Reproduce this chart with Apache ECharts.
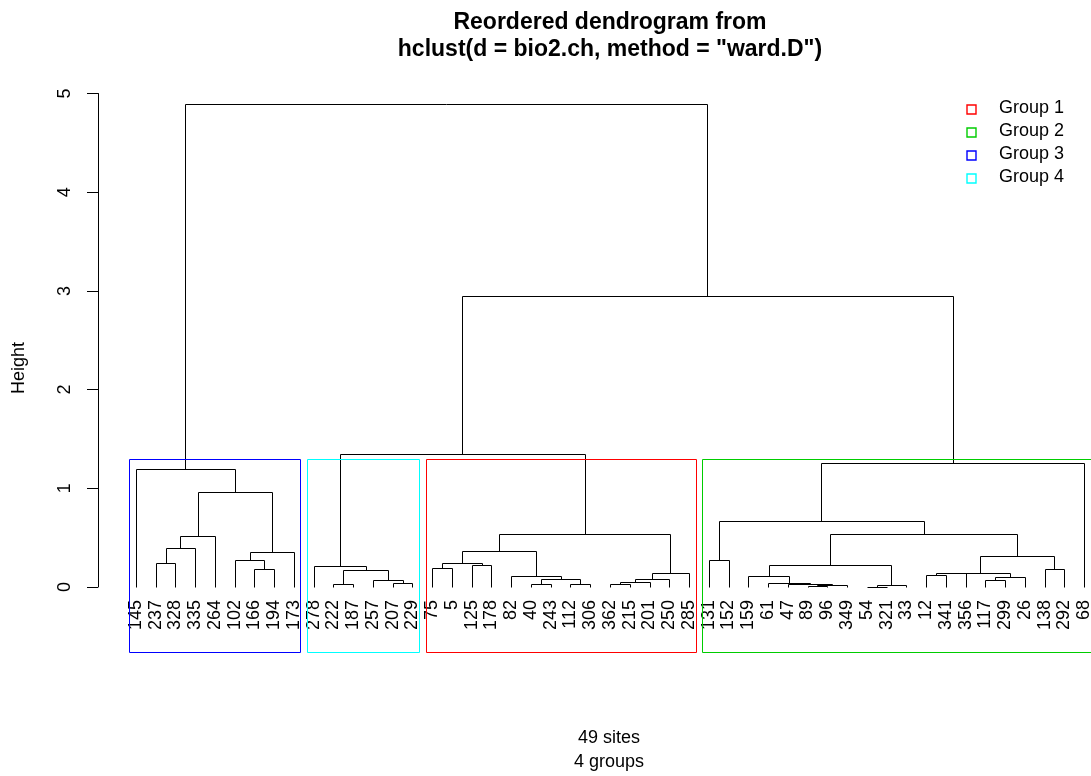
<!DOCTYPE html>
<html>
<head>
<meta charset="utf-8">
<title>Reordered dendrogram</title>
<script src="https://cdn.jsdelivr.net/npm/echarts@6/dist/echarts.min.js"></script>
<style>
  html, body { margin: 0; padding: 0; background: #fff; }
  #chart { width: 1091px; height: 776px; }
</style>
</head>
<body>
<div id="chart"></div>
<script>
  // leaves as drawn, left to right
  const siteLabels = [
    '145', '237', '328', '335', '264', '102', '166', '194', '173',
    '278', '222', '187', '257', '207', '229',
    '75', '5', '125', '178', '82', '40', '243', '112', '306', '362', '215', '201', '250', '285',
    '131', '152', '159', '61', '47', '89', '96', '349', '54', '321', '33', '12', '341', '356',
    '117', '299', '26', '138', '292', '68'
  ];

  // merge steps like hclust$merge: negative = site, positive = earlier step (1-based)
  const merges = [
    [-237, -328], [1, -335], [2, -264], [-166, -194], [-102, 4], [5, -173], [3, 6], [-145, 7],
    [-222, -187], [-207, -229], [-257, 10], [9, 11], [-278, 12],
    [-75, -5], [-125, -178], [14, 15], [-40, -243], [-112, -306], [17, 18], [-82, 19], [16, 20],
    [-362, -215], [22, -201], [23, -250], [24, -285], [21, 25],
    [13, 26],
    [-131, -152], [-89, -96], [29, -349], [-47, 30], [-61, 31], [-159, 32], [-54, -321], [34, -33],
    [33, 35], [-12, -341], [37, -356], [-117, -299], [39, -26], [38, 40], [-138, -292], [41, 42],
    [36, 43], [28, 44], [45, -68],
    [27, 46], [8, 47]
  ];
  const mergeHeights = [
    0.246, 0.40, 0.52, 0.185, 0.277, 0.35, 0.965, 1.195,
    0.033, 0.044, 0.074, 0.175, 0.213,
    0.196, 0.22, 0.246, 0.03, 0.03, 0.081, 0.108, 0.36,
    0.03, 0.047, 0.081, 0.145, 0.534,
    1.345,
    0.277, 0.010, 0.017, 0.027, 0.036, 0.115, 0.005, 0.020,
    0.223, 0.125, 0.139, 0.071, 0.098, 0.145, 0.185, 0.311,
    0.534, 0.666, 1.253,
    2.95, 4.89
  ];

  const groupNames = ['Group 1', 'Group 2', 'Group 3', 'Group 4'];
  const groupColors = ['#FF0000', '#00CD00', '#0000FF', '#00FFFF'];
  // group number of each cluster (left to right) when the tree is cut into 4
  const clusterGroups = [3, 4, 1, 2];
  const heightTicks = [0, 1, 2, 3, 4, 5];
  const subLines = ['49 sites', '4 groups'];

  const FONT = 'Liberation Sans, Arial, Helvetica, sans-serif';

  // x position (leaf index) and height of a node
  const nodeX = (n) => (n < 0 ? siteLabels.indexOf(String(-n)) + 1 : (nodeX(merges[n - 1][0]) + nodeX(merges[n - 1][1])) / 2);
  const nodeH = (n) => (n < 0 ? 0 : mergeHeights[n - 1]);
  const leavesOf = (n) => (n < 0 ? [siteLabels.indexOf(String(-n)) + 1] : leavesOf(merges[n - 1][0]).concat(leavesOf(merges[n - 1][1])));

  const treeData = merges.map((m, i) => [nodeX(m[0]), nodeH(m[0]), nodeX(m[1]), nodeH(m[1]), mergeHeights[i]]);

  // cut the tree into 4 clusters (split highest merges first)
  let clusters = [merges.length];
  while (clusters.length < clusterGroups.length) {
    let best = 0;
    clusters.forEach((c, i) => { if (nodeH(c) > nodeH(clusters[best])) best = i; });
    const m = merges[clusters[best] - 1];
    clusters.splice(best, 1, m[0], m[1]);
  }
  clusters = clusters.map((c) => leavesOf(c)).sort((a, b) => Math.min(...a) - Math.min(...b));
  const sortedH = mergeHeights.slice().sort((a, b) => b - a);
  const k = clusterGroups.length;
  const rectTop = (sortedH[k - 2] + sortedH[k - 1]) / 2;
  const rectBottom = -0.66;

  const rectSeries = groupNames.map((name, gi) => {
    const ci = clusterGroups.indexOf(gi + 1);
    const leaves = clusters[ci];
    return {
      name: name,
      type: 'custom',
      silent: true,
      data: [[Math.min(...leaves) - 0.34, Math.max(...leaves) + 0.33, rectBottom, rectTop]],
      encode: { x: [0, 1], y: [2, 3] },
      renderItem: (params, api) => {
        const p0 = api.coord([api.value(0), api.value(3)]);
        const p1 = api.coord([api.value(1), api.value(2)]);
        return {
          type: 'rect',
          shape: { x: Math.round(p0[0]) + 0.5, y: Math.round(p0[1]) + 0.5, width: Math.round(p1[0] - p0[0]), height: Math.round(p1[1] - p0[1]) },
          style: { stroke: groupColors[gi], fill: null, lineWidth: 1 }
        };
      }
    };
  });

  const px = (v) => Math.round(v) + 0.5;

  const chart = echarts.init(document.getElementById('chart'), null, { renderer: 'canvas' });

  const graphics = [
    { type: 'text', x: 610, y: 23, style: { text: 'Reordered dendrogram from', font: 'bold 23px ' + FONT, fill: '#000', align: 'center', verticalAlign: 'middle' } },
    { type: 'text', x: 610, y: 50, style: { text: 'hclust(d = bio2.ch, method = "ward.D")', font: 'bold 23px ' + FONT, fill: '#000', align: 'center', verticalAlign: 'middle' } },
    { type: 'text', x: 19, y: 368, rotation: Math.PI / 2, style: { text: 'Height', font: '18px ' + FONT, fill: '#000', align: 'center', verticalAlign: 'middle' } }
  ];
  subLines.forEach((t, i) => {
    graphics.push({ type: 'text', x: 609, y: 738 + i * 24, style: { text: t, font: '18px ' + FONT, fill: '#000', align: 'center', verticalAlign: 'middle' } });
  });
  groupNames.forEach((name, i) => {
    const y = 108.5 + i * 23;
    graphics.push({ type: 'rect', shape: { x: 967, y: Math.round(y - 4), width: 9, height: 9 }, style: { stroke: groupColors[i], fill: null, lineWidth: 1.4 } });
    graphics.push({ type: 'text', x: 999, y: y, style: { text: name, font: '18px ' + FONT, fill: '#000', align: 'left', verticalAlign: 'middle' } });
  });

  const option = {
    animation: false,
    backgroundColor: '#fff',
    textStyle: { fontFamily: FONT },
    grid: { left: 98, top: 93.5, width: 1024, height: 493.5, outerBoundsMode: 'none', containLabel: false },
    xAxis: {
      type: 'value',
      min: -0.92,
      max: 50.92,
      axisLine: { show: false, onZero: false },
      axisTick: { show: false },
      splitLine: { show: false },
      axisLabel: {
        customValues: siteLabels.map((s, i) => i + 1),
        formatter: (v) => siteLabels[Math.round(v) - 1] || '',
        rotate: 90,
        margin: 13,
        fontSize: 18,
        color: '#000',
        fontFamily: FONT
      }
    },
    yAxis: {
      type: 'value',
      min: heightTicks[0],
      max: heightTicks[heightTicks.length - 1],
      interval: 1,
      axisLine: { show: true, onZero: false, lineStyle: { color: '#000', width: 1 } },
      axisTick: { show: true, length: 11, lineStyle: { color: '#000' } },
      splitLine: { show: false },
      axisLabel: { rotate: 90, margin: 24, fontSize: 18, color: '#000', fontFamily: FONT }
    },
    graphic: graphics,
    series: [
      {
        name: 'tree',
        type: 'custom',
        silent: true,
        data: treeData,
        encode: { x: [0, 2], y: [1, 3, 4] },
        renderItem: (params, api) => {
          const xl = api.coord([api.value(0), api.value(1)]);
          const top = api.coord([api.value(2), api.value(4)]);
          const xr = api.coord([api.value(2), api.value(3)]);
          const yTop = px(top[1]);
          return {
            type: 'polyline',
            shape: { points: [[px(xl[0]), px(xl[1])], [px(xl[0]), yTop], [px(xr[0]), yTop], [px(xr[0]), px(xr[1])]] },
            style: { stroke: '#000', lineWidth: 1, fill: null }
          };
        }
      }
    ].concat(rectSeries)
  };

  chart.setOption(option);
</script>
</body>
</html>
